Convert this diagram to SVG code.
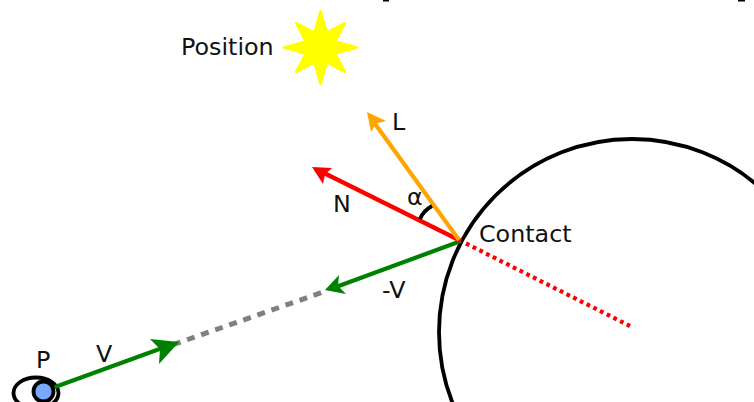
<svg xmlns="http://www.w3.org/2000/svg" width="754" height="402" viewBox="0 0 754 402">
<style>
text{font-family:"DejaVu Sans",sans-serif;font-size:23.800px;fill:#111}
.c{fill:none;stroke-linecap:butt}
</style>
<rect width="754" height="402" fill="#fff"/>
<g id="sphere"><circle cx="632" cy="332" r="193" fill="none" stroke="#000" stroke-width="3.800"/></g>
<g id="top-marks"><rect x="383" y="0" width="6" height="1.500" fill="#000"/><rect x="738" y="0" width="7" height="1.500" fill="#000"/></g>
<g id="position"><text x="181" y="55">Position</text>
<path d="M320.500 11L326.600 32.700L345 23L335.300 41.400L357 47.500L335.300 53.600L345 72L326.600 62.300L320.500 84L314.400 62.300L296 72L305.700 53.600L284 47.500L305.700 41.400L296 23L314.400 32.700Z" fill="#ff0" stroke="#ff0" stroke-width="2.500" stroke-linejoin="round"/></g>
<g id="eye"><ellipse cx="36" cy="393" rx="22.500" ry="15.500" fill="#fff" stroke="#000" stroke-width="3.800"/><circle cx="43.500" cy="391.500" r="10" fill="#7af" stroke="#000" stroke-width="3.800"/><text x="36" y="368">P</text></g>
<g id="connectors">
<path class="c" d="M173 344.700L322 292.400" stroke="#808080" stroke-width="5" stroke-dasharray="8 6.900"/>
<path class="c" d="M466 243.500L630 326" stroke="#f00" stroke-width="4.200" stroke-dasharray="3.800 3.700"/>
<path class="c" d="M55 387L165 347" stroke="#008000" stroke-width="4.200"/>
<path d="M179 342L150 339L160 349L159 364Z" fill="#008000"/>
<path class="c" d="M461 241L336 287" stroke="#008000" stroke-width="4.200"/>
<path d="M325 290L339 275L338 286L346 294Z" fill="#008000"/>
<path class="c" d="M461 241L322 172" stroke="#f00" stroke-width="4.200"/>
<path d="M312 167L332 168L325 174.500L323 184Z" fill="#f00"/>
<path class="c" d="M459 240L373 121" stroke="#ffa500" stroke-width="4.200"/>
<path d="M367 112L386 121L376 123.500L371 132Z" fill="#ffa500"/>
<path class="c" d="M420 219Q423 211 432 206" stroke="#000" stroke-width="3.800"/>
</g>
<g id="labels">
<text x="392" y="130">L</text><text x="333" y="212">N</text><text x="407" y="205">α</text><text x="479" y="242">Contact</text><text x="382" y="298">-V</text><text x="96" y="362">V</text>
</g>
</svg>
